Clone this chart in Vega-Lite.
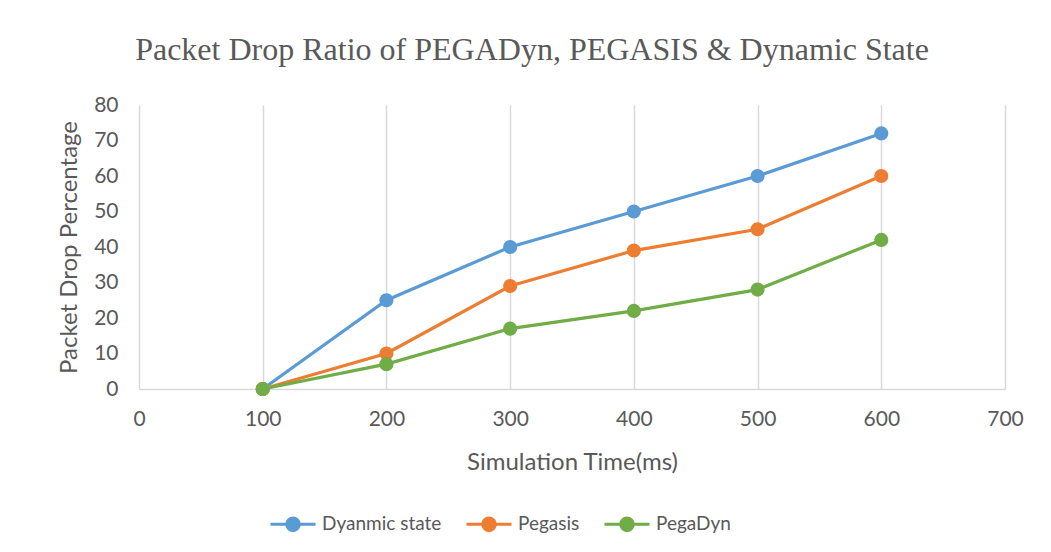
{
  "$schema": "https://vega.github.io/schema/vega-lite/v6.json",
  "autosize": "none",
  "width": 866,
  "height": 284,
  "padding": {"left": 139, "top": 105, "right": 46, "bottom": 163},
  "background": "white",
  "title": {
    "text": "Packet Drop Ratio of PEGADyn, PEGASIS & Dynamic State",
    "font": "Liberation Serif",
    "fontSize": 32,
    "fontWeight": "normal",
    "color": "#595959",
    "anchor": "middle",
    "offset": 27,
    "dx": -40
  },
  "data": {
    "values": [
      {"time": 100, "series": "Dyanmic state", "value": 0},
      {"time": 200, "series": "Dyanmic state", "value": 25},
      {"time": 300, "series": "Dyanmic state", "value": 40},
      {"time": 400, "series": "Dyanmic state", "value": 50},
      {"time": 500, "series": "Dyanmic state", "value": 60},
      {"time": 600, "series": "Dyanmic state", "value": 72},
      {"time": 100, "series": "Pegasis", "value": 0},
      {"time": 200, "series": "Pegasis", "value": 10},
      {"time": 300, "series": "Pegasis", "value": 29},
      {"time": 400, "series": "Pegasis", "value": 39},
      {"time": 500, "series": "Pegasis", "value": 45},
      {"time": 600, "series": "Pegasis", "value": 60},
      {"time": 100, "series": "PegaDyn", "value": 0},
      {"time": 200, "series": "PegaDyn", "value": 7},
      {"time": 300, "series": "PegaDyn", "value": 17},
      {"time": 400, "series": "PegaDyn", "value": 22},
      {"time": 500, "series": "PegaDyn", "value": 28},
      {"time": 600, "series": "PegaDyn", "value": 42}
    ]
  },
  "mark": {"type": "line", "strokeWidth": 3.2, "point": {"size": 200, "filled": true, "opacity": 1}},
  "encoding": {
    "x": {
      "field": "time",
      "type": "quantitative",
      "scale": {"domain": [0, 700], "nice": false},
      "axis": {
        "title": "Simulation Time(ms)",
        "values": [0, 100, 200, 300, 400, 500, 600, 700],
        "grid": true,
        "gridColor": "#d9d9d9",
        "gridWidth": 1.5,
        "domainColor": "#d9d9d9",
        "domainWidth": 1.5,
        "ticks": false,
        "labelFlush": false,
        "labelPadding": 19,
        "labelFont": "Lato",
        "labelFontSize": 21,
        "labelColor": "#595959",
        "titleFont": "Lato",
        "titleFontSize": 24,
        "titleFontWeight": "normal",
        "titleColor": "#595959",
        "titlePadding": 21
      }
    },
    "y": {
      "field": "value",
      "type": "quantitative",
      "scale": {"domain": [0, 80], "nice": false},
      "axis": {
        "title": "Packet Drop Percentage",
        "values": [0, 10, 20, 30, 40, 50, 60, 70, 80],
        "grid": false,
        "domain": false,
        "ticks": false,
        "labelPadding": 21,
        "labelFont": "Lato",
        "labelFontSize": 21,
        "labelColor": "#595959",
        "titleFont": "Lato",
        "titleFontSize": 24,
        "titleFontWeight": "normal",
        "titleColor": "#595959",
        "titlePadding": 12
      }
    },
    "color": {
      "field": "series",
      "type": "nominal",
      "sort": ["Dyanmic state", "Pegasis", "PegaDyn"],
      "scale": {"domain": ["Dyanmic state", "Pegasis", "PegaDyn"], "range": ["#5B9BD5", "#ED7D31", "#70AD47"]},
      "legend": {
        "title": null,
        "orient": "none",
        "direction": "horizontal",
        "legendX": 130,
        "legendY": 395,
        "symbolType": "M-1,0L1,0M0.28,0A0.28,0.28,0,1,1,-0.28,0A0.28,0.28,0,1,1,0.28,0Z",
        "symbolSize": 2025,
        "symbolStrokeWidth": 3,
        "labelFont": "Lato",
        "labelFontSize": 19,
        "labelColor": "#595959",
        "labelOffset": 5,
        "columnPadding": 18
      }
    }
  },
  "config": {"view": {"stroke": null}}
}
